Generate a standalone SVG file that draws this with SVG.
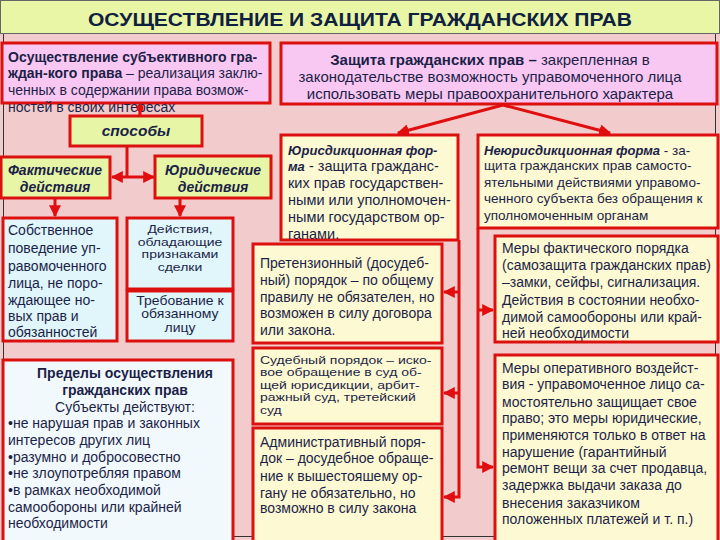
<svg xmlns="http://www.w3.org/2000/svg" width="720" height="540" viewBox="0 0 720 540">
<defs>
<marker id="ah" viewBox="0 0 10 10" refX="9" refY="5" markerWidth="4" markerHeight="4" orient="auto-start-reverse" markerUnits="strokeWidth">
<path d="M0,0 L10,5 L0,10 z" fill="#e00e0e"/>
</marker>
<style>
text{font-family:"Liberation Sans",Arial,sans-serif;fill:#1c1f48}
.box{stroke:#dd1010;stroke-width:3}
.pink{fill:#f9c8f2}
.green{fill:#e6f5a6}
.blue{fill:#e0f6fb}
.yel{fill:#fdf9d2}
.lt{fill:#f2f9fc}
.b{font-weight:bold}
.bi{font-weight:bold;font-style:italic}
.c{text-anchor:middle}
.t13{font-size:13px}
.t135{font-size:13.5px}
.t14{font-size:14px}
.t145{font-size:14.5px}
.t15{font-size:15px}
.con{stroke:#e00e0e;stroke-width:3;fill:none}
</style>
</defs>
<rect x="0" y="0" width="720" height="540" fill="#f2cccc"/>
<rect x="3.5" y="33.5" width="712" height="503" fill="none" stroke="#333" stroke-width="1"/>
<g id="title">
<rect x="0.5" y="0.5" width="719" height="33" fill="#e9f6a6" stroke="#666" stroke-width="1"/>
<text x="88" y="26" class="b" font-size="19" textLength="544" lengthAdjust="spacingAndGlyphs" style="fill:#10203f">ОСУЩЕСТВЛЕНИЕ  И  ЗАЩИТА  ГРАЖДАНСКИХ  ПРАВ</text>
</g>
<g id="osush">
<rect x="2" y="43" width="268" height="60" class="box pink"/>
<text x="8" y="62" class="t14"><tspan class="b">Осуществление субъективного гра-</tspan></text>
<text x="8" y="78" class="t14"><tspan class="b">ждан-кого права</tspan> – реализация заклю-</text>
<text x="8" y="95" class="t14">ченных в содержании права возмож-</text>
<text x="8" y="112" class="t14">ностей в своих интересах</text>
</g>
<g id="zashita">
<rect x="281" y="43" width="436" height="61" class="box pink"/>
<text x="490" y="65" class="t15 c"><tspan class="b">Защита гражданских прав –</tspan> закрепленная в</text>
<text x="490" y="82" class="t15 c">законодательстве возможность управомоченного лица</text>
<text x="490" y="99" class="t15 c">использовать меры правоохранительного характера</text>
</g>
<g id="sposoby">
<rect x="70" y="116" width="132" height="30" class="box green"/>
<text x="136" y="136" class="bi c" font-size="15.5">способы</text>
</g>
<g id="fakt">
<rect x="1" y="157" width="109" height="41" class="box green"/>
<text x="55" y="175" class="bi c t14">Фактические</text>
<text x="55" y="192" class="bi c t14">действия</text>
</g>
<g id="yurid">
<rect x="155" y="156" width="116" height="42" class="box green"/>
<text x="213" y="175" class="bi c t14">Юридические</text>
<text x="213" y="192" class="bi c t14">действия</text>
</g>
<g id="sobstv">
<rect x="3" y="218" width="114" height="123" class="box blue"/>
<text x="8" y="235" class="t14">Собственное</text>
<text x="8" y="253" class="t14">поведение уп-</text>
<text x="8" y="271" class="t14">равомоченного</text>
<text x="8" y="288" class="t14">лица, не поро-</text>
<text x="8" y="305" class="t14">ждающее но-</text>
<text x="8" y="321" class="t14">вых прав и</text>
<text x="8" y="337" class="t14">обязанностей</text>
</g>
<g id="deistv">
<rect x="127" y="218" width="106" height="71" class="box blue"/>
<text x="180" y="233" class="c t14" transform="matrix(1 0 0 0.82 0 41.94)">Действия,</text>
<text x="180" y="246" class="c t14" transform="matrix(1 0 0 0.82 0 44.28)">обладающие</text>
<text x="180" y="258" class="c t14" transform="matrix(1 0 0 0.82 0 46.44)">признаками</text>
<text x="180" y="271" class="c t14" transform="matrix(1 0 0 0.82 0 48.78)">сделки</text>
</g>
<g id="trebov">
<rect x="127" y="291" width="106" height="50" class="box blue"/>
<text x="180" y="305" class="c t14" transform="matrix(1 0 0 0.85 0 45.75)">Требование к</text>
<text x="180" y="318" class="c t14" transform="matrix(1 0 0 0.85 0 47.7)">обязанному</text>
<text x="180" y="332" class="c t14" transform="matrix(1 0 0 0.85 0 49.8)">лицу</text>
</g>
<g id="predely">
<rect x="3" y="360" width="230" height="182" class="box lt"/>
<text x="125" y="378" class="b c t14">Пределы  осуществления</text>
<text x="125" y="395" class="b c t14">гражданских прав</text>
<text x="125" y="412" class="c t14">Субъекты действуют:</text>
<text x="8" y="428" class="t14">•не нарушая прав и законных</text>
<text x="8" y="445" class="t14">интересов других лиц</text>
<text x="8" y="462" class="t14">•разумно и добросовестно</text>
<text x="8" y="478" class="t14">•не  злоупотребляя правом</text>
<text x="8" y="495" class="t14">•в рамках необходимой</text>
<text x="8" y="512" class="t14">самообороны или  крайней</text>
<text x="8" y="528" class="t14">необходимости</text>
</g>
<g id="yurisd">
<rect x="281" y="135" width="177" height="105" class="box yel"/>
<text x="288" y="155" class="t145"><tspan class="bi" font-size="13">Юрисдикционная фор-</tspan></text>
<text x="288" y="171" class="t145"><tspan class="bi" font-size="13">ма</tspan>  - защита гражданс-</text>
<text x="288" y="188" class="t145">ких прав государствен-</text>
<text x="288" y="205" class="t145">ными или уполномочен-</text>
<text x="288" y="222" class="t145">ными государством ор-</text>
<text x="288" y="239" class="t145">ганами.</text>
</g>
<g id="pretenz">
<rect x="253" y="244" width="189" height="99" class="box yel"/>
<text x="260" y="268" class="t14">Претензионный (досудеб-</text>
<text x="260" y="285" class="t14">ный) порядок – по общему</text>
<text x="260" y="302" class="t14">правилу не обязателен, но</text>
<text x="260" y="318" class="t14">возможен в силу договора</text>
<text x="260" y="335" class="t14">или закона.</text>
</g>
<g id="sudeb">
<rect x="253" y="348" width="189" height="76" class="box yel"/>
<text x="260" y="364" class="t14" transform="matrix(1 0 0 0.8 0 72.8)">Судебный порядок – иско-</text>
<text x="260" y="376" class="t14" transform="matrix(1 0 0 0.8 0 75.2)">вое обращение в суд об-</text>
<text x="260" y="389" class="t14" transform="matrix(1 0 0 0.8 0 77.8)">щей юрисдикции, арбит-</text>
<text x="260" y="401" class="t14" transform="matrix(1 0 0 0.8 0 80.2)">ражный суд, третейский</text>
<text x="260" y="414" class="t14" transform="matrix(1 0 0 0.8 0 82.8)">суд</text>
</g>
<g id="admin">
<rect x="253" y="428" width="189" height="114" class="box yel"/>
<text x="260" y="447" class="t14">Административный поря-</text>
<text x="260" y="463" class="t14">док – досудебное обраще-</text>
<text x="260" y="481" class="t14">ние к вышестояшему ор-</text>
<text x="260" y="498" class="t14">гану не обязательно, но</text>
<text x="260" y="513" class="t14">возможно в силу закона</text>
</g>
<g id="neyurisd">
<rect x="478" y="135" width="240" height="93" class="box yel"/>
<text x="484" y="155" class="t135"><tspan class="bi" font-size="13">Неюрисдикционная форма</tspan>  - за-</text>
<text x="484" y="170" class="t135">щита гражданских прав самосто-</text>
<text x="484" y="187" class="t135">ятельными действиями управомо-</text>
<text x="484" y="203" class="t135">ченного субъекта без обращения к</text>
<text x="484" y="220" class="t135">уполномоченным органам</text>
</g>
<g id="faktpor">
<rect x="495" y="236" width="223" height="106" class="box yel"/>
<text x="502" y="253" class="t14">Меры фактического порядка</text>
<text x="502" y="270" class="t14">(самозащита гражданских прав)</text>
<text x="502" y="287" class="t14">–замки, сейфы, сигнализация.</text>
<text x="502" y="305" class="t14">Действия   в состоянии необхо-</text>
<text x="502" y="322" class="t14">димой самообороны или край-</text>
<text x="502" y="338" class="t14">ней необходимости</text>
</g>
<g id="operat">
<rect x="495" y="355" width="223" height="187" class="box yel"/>
<text x="502" y="373" class="t14">Меры оперативного воздейст-</text>
<text x="502" y="389" class="t14">вия -  управомоченное лицо са-</text>
<text x="502" y="407" class="t14">мостоятельно защищает свое</text>
<text x="502" y="423" class="t14">право; это меры юридические,</text>
<text x="502" y="440" class="t14">применяются  только в ответ на</text>
<text x="502" y="457" class="t14">нарушение (гарантийный</text>
<text x="502" y="473" class="t14">ремонт вещи за счет продавца,</text>
<text x="502" y="490" class="t14">задержка выдачи заказа до</text>
<text x="502" y="508" class="t14">внесения заказчиком</text>
<text x="502" y="524" class="t14">положенных платежей и т. п.)</text>
</g>
<g id="connectors">
<circle cx="140" cy="108" r="3.5" fill="#e00e0e"/>
<line x1="140" y1="108" x2="140" y2="116" class="con"/>
<line x1="503" y1="105" x2="398" y2="133" class="con" marker-end="url(#ah)"/>
<line x1="503" y1="105" x2="610" y2="133" class="con" marker-end="url(#ah)"/>
<line x1="127" y1="147" x2="127" y2="176" class="con"/>
<line x1="112" y1="177" x2="154" y2="177" class="con" marker-start="url(#ah)" marker-end="url(#ah)"/>
<line x1="55" y1="199" x2="55" y2="216" class="con" marker-end="url(#ah)"/>
<line x1="180" y1="199" x2="180" y2="216" class="con" marker-end="url(#ah)"/>
<polyline points="459,240 459,497 444,497" class="con" marker-end="url(#ah)"/>
<line x1="459" y1="292" x2="444" y2="292" class="con" marker-end="url(#ah)"/>
<line x1="459" y1="393" x2="444" y2="393" class="con" marker-end="url(#ah)"/>
<polyline points="478,228 478,467 493,467" class="con" marker-end="url(#ah)"/>
<line x1="478" y1="310" x2="493" y2="310" class="con" marker-end="url(#ah)"/>
</g>
</svg>
